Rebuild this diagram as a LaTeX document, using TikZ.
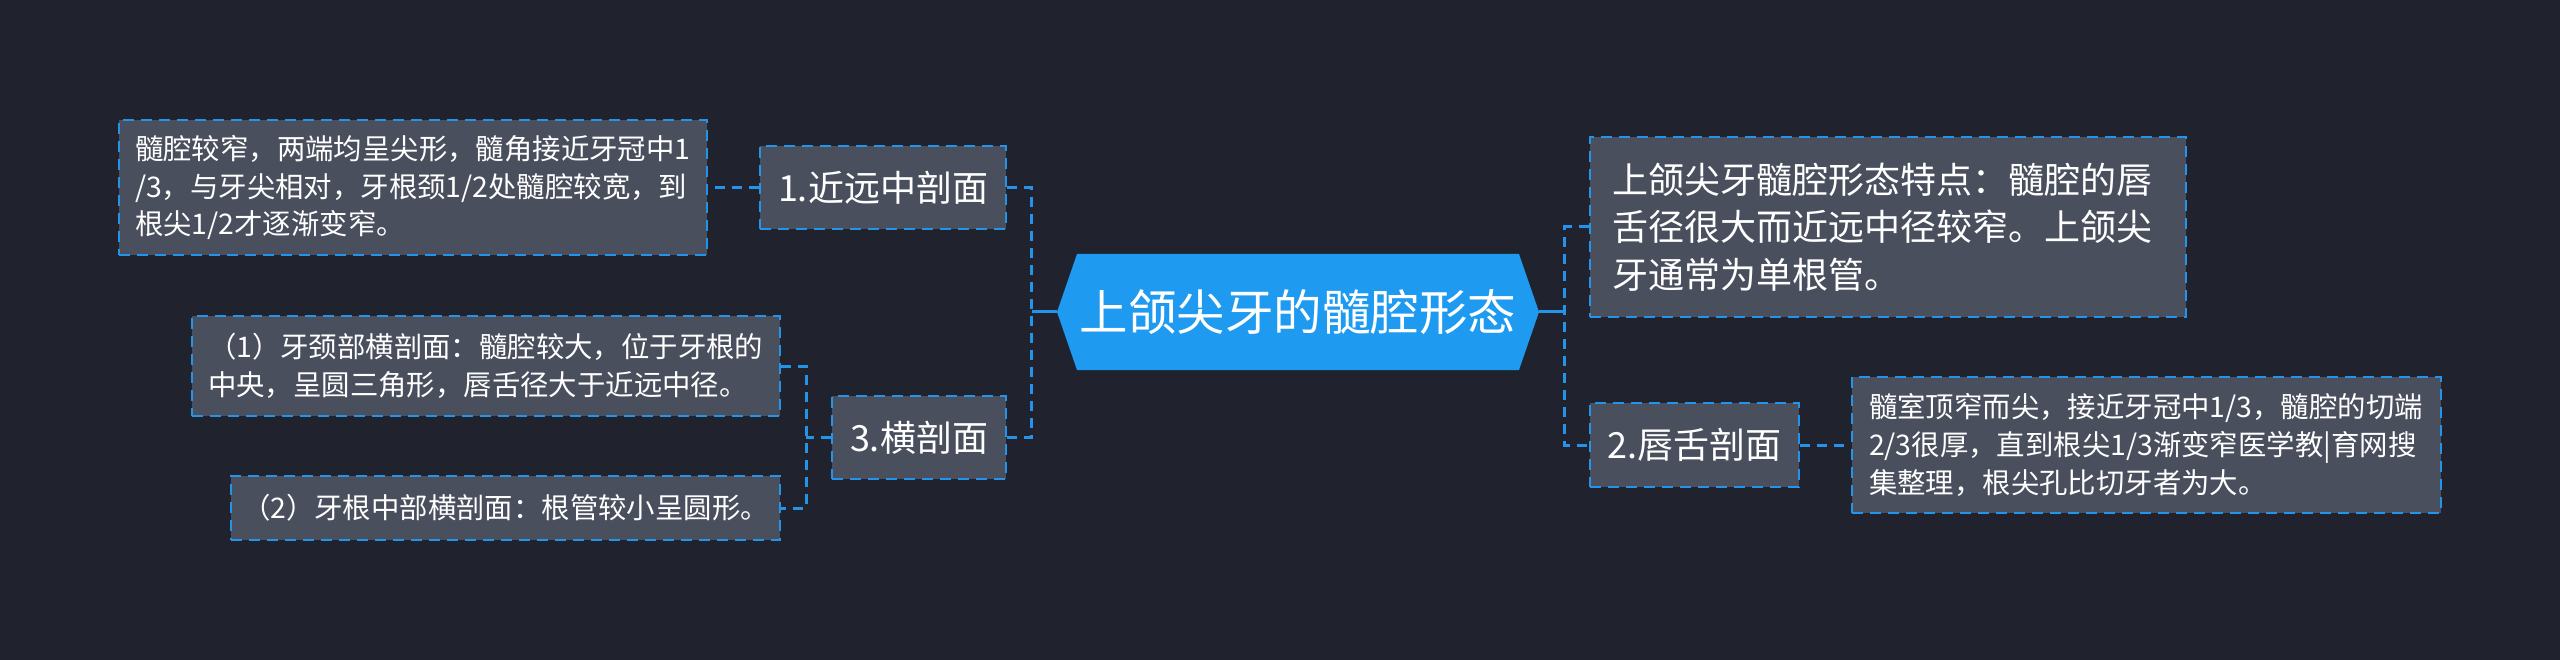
\documentclass[tikz,border=0pt]{standalone}
\usepackage{fontspec}
\setmainfont{Noto Sans CJK SC}
\definecolor{bg}{HTML}{20232E}
\definecolor{boxfill}{HTML}{4A4F5E}
\definecolor{dashblue}{HTML}{2494EA}
\definecolor{hexblue}{HTML}{1E9AF0}
\tikzset{
  dashbox/.style={draw=dashblue, fill=boxfill, line width=2.5pt, dash pattern=on 11pt off 7pt, text=white, inner sep=0pt},
  bigfont/.style={font=\fontsize{36}{47.5}\selectfont},
  smallfont/.style={font=\fontsize{28.4}{37.8}\selectfont},
  conn/.style={draw=dashblue, line width=3pt, dash pattern=on 10pt off 7pt},
  solidconn/.style={draw=dashblue, line width=3pt},
}
\begin{document}
\begin{tikzpicture}[x=1pt,y=-1pt]
\useasboundingbox (0,0) rectangle (2560,660);
\fill[bg] (0,0) rectangle (2560,660);

% central hexagon
\fill[hexblue] (1057,312) -- (1077,254) -- (1519,254) -- (1539,312) -- (1519,370) -- (1077,370) -- cycle;
\node[text=white, font=\fontsize{48.5}{58}\selectfont, minimum width=482pt, minimum height=116pt, inner sep=0pt] (root) at (1298,312) {上颌尖牙的髓腔形态};

% left branch nodes
\node[dashbox, bigfont, minimum width=246pt, minimum height=83pt] (n1) at (883,187.5) {1.近远中剖面};
\node[dashbox, bigfont, minimum width=174pt, minimum height=83pt] (n3) at (919,437.5) {3.横剖面};

\node[dashbox, smallfont, text width=556pt, align=left, inner xsep=16pt, minimum height=135pt] (l1) at (413,187.5)
  {髓腔较窄，两端均呈尖形，髓角接近牙冠中1\\/3，与牙尖相对，牙根颈1/2处髓腔较宽，到\\根尖1/2才逐渐变窄。};
\node[dashbox, smallfont, text width=556pt, align=left, inner xsep=16pt, minimum height=100pt] (b1) at (486,366)
  {（1）牙颈部横剖面：髓腔较大，位于牙根的\\中央，呈圆三角形，唇舌径大于近远中径。};
\node[dashbox, smallfont, minimum width=549pt, minimum height=64pt] (b2) at (505.5,508)
  {（2）牙根中部横剖面：根管较小呈圆形。};

% right branch nodes
\node[dashbox, bigfont, text width=552pt, align=left, inner xsep=22pt, minimum height=180pt] (r1) at (1888,227)
  {上颌尖牙髓腔形态特点：髓腔的唇\\舌径很大而近远中径较窄。上颌尖\\牙通常为单根管。};
\node[dashbox, bigfont, minimum width=209pt, minimum height=84pt] (n2) at (1694.5,445) {2.唇舌剖面};
\node[dashbox, smallfont, text width=555pt, align=left, inner xsep=17pt, minimum height=136pt] (r2) at (2146.5,445)
  {髓室顶窄而尖，接近牙冠中1/3，髓腔的切端\\2/3很厚，直到根尖1/3渐变窄医学教|育网搜\\集整理，根尖孔比切牙者为大。};

% connectors
\coordinate (ltrunk) at (1031.5,312);
\coordinate (rtrunk) at (1564.5,312);
\coordinate (l3trunk) at (806,437.5);

\draw[solidconn] (root.west) -- (ltrunk);
\draw[conn] (n1.east) -- (n1.east -| ltrunk) -- (n3.east -| ltrunk) -- (n3.east);
\draw[conn] (n1.west) -- (l1.east);
\draw[conn] (n3.west) -- (l3trunk);
\draw[conn] (b1.east) -- (b1.east -| l3trunk) -- (b2.east -| l3trunk) -- (b2.east);

\draw[solidconn] (root.east) -- (rtrunk);
\draw[conn] (r1.west) -- (r1.west -| rtrunk) -- (n2.west -| rtrunk) -- (n2.west);
\draw[conn] (n2.east) -- (r2.west);
\end{tikzpicture}
\end{document}
